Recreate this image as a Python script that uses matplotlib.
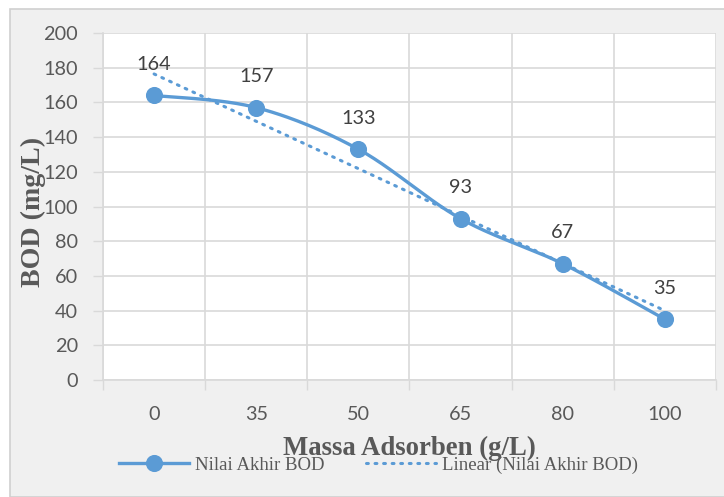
import numpy as np
import matplotlib
matplotlib.use("Agg")
import matplotlib.pyplot as plt
from matplotlib.patches import Rectangle
from matplotlib.lines import Line2D

# Data
massa = ["0", "35", "50", "65", "80", "100"]
bod = [164, 157, 133, 93, 67, 35]
y_ticks = [0, 20, 40, 60, 80, 100, 120, 140, 160, 180, 200]

series_name = "Nilai Akhir BOD"
trend_name = "Linear (Nilai Akhir BOD)"
xlabel = "Massa Adsorben (g/L)"
ylabel = "BOD (mg/L)"

BLUE = "#5b9bd5"
GRID = "#d9d9d9"
TXT = "#595959"
NUM_FONT = "Lato"
NUM_SIZE = 14.3
MS = 11.3

W, H, DPI = 724, 497, 100
fig = plt.figure(figsize=(W / DPI, H / DPI), dpi=DPI, facecolor="white")

# chart area background with border
fig.patches.append(Rectangle((10 / W, 0), 1 - 10 / W + 0.01, 1 - 8.5 / H,
                             transform=fig.transFigure, facecolor="#f0f0f0",
                             edgecolor="#d0d0d0", linewidth=1.2, zorder=-5))

ax = fig.add_axes([103 / W, 1 - 380 / H, (716 - 103) / W, (380 - 33) / H])
ax.set_zorder(2)
ax.set_facecolor("white")

n = len(bod)
xs = np.arange(n)
ys = np.array(bod, dtype=float)


def smooth_curve(x, y, steps=40):
    """Cubic Bezier smoothing through all points (Catmull-Rom style)."""
    px = np.concatenate([[x[0]], x, [x[-1]]])
    py = np.concatenate([[y[0]], y, [y[-1]]])
    out_x, out_y = [], []
    t = np.linspace(0, 1, steps)
    for i in range(1, len(x)):
        p0 = np.array([px[i], py[i]])
        p3 = np.array([px[i + 1], py[i + 1]])
        c1 = p0 + (np.array([px[i + 1], py[i + 1]]) - np.array([px[i - 1], py[i - 1]])) / 6
        c2 = p3 - (np.array([px[i + 2], py[i + 2]]) - np.array([px[i], py[i]])) / 6
        b = ((1 - t) ** 3)[:, None] * p0 + (3 * (1 - t) ** 2 * t)[:, None] * c1 \
            + (3 * (1 - t) * t ** 2)[:, None] * c2 + (t ** 3)[:, None] * p3
        out_x.extend(b[:, 0])
        out_y.extend(b[:, 1])
    return np.array(out_x), np.array(out_y)


sx, sy = smooth_curve(xs, ys)
ax.plot(sx, sy, color=BLUE, lw=2.4, solid_capstyle="round", zorder=3)
ax.plot(xs, ys, linestyle="none", marker="o", ms=MS, color=BLUE, zorder=4)

# linear trendline
slope, intercept = np.polyfit(xs + 1, ys, 1)
tx = np.array([xs[0], xs[-1]])
ax.plot(tx, slope * (tx + 1) + intercept, color=BLUE, lw=2.2,
        linestyle=(0, (0.6, 2.2)), dash_capstyle="round", zorder=2)

# data labels
for x, v in zip(xs, bod):
    ax.annotate(str(v), (x, v), xytext=(0, 18.5), textcoords="offset points",
                ha="center", va="baseline", fontsize=NUM_SIZE, color="#404040",
                family=NUM_FONT, zorder=5)

ax.set_xlim(-0.5, n - 0.5)
ax.set_ylim(0, 200)
ax.set_yticks(y_ticks)
ax.set_yticklabels([str(v) for v in y_ticks], fontsize=NUM_SIZE, color=TXT, family=NUM_FONT)
ax.tick_params(axis="y", length=7, width=1, color=GRID, pad=11)

# category boundaries as major ticks, labels at category centers
ax.set_xticks(np.arange(n + 1) - 0.5)
ax.set_xticklabels([])
ax.set_xticks(xs, minor=True)
ax.set_xticklabels(massa, minor=True, fontsize=NUM_SIZE, color=TXT, family=NUM_FONT)
ax.tick_params(axis="x", which="major", length=7, width=1, color=GRID)
ax.tick_params(axis="x", which="minor", length=0, pad=19)

ax.grid(True, which="major", color=GRID, lw=1.2)
ax.set_axisbelow(True)
for s in ["top", "right"]:
    ax.spines[s].set_visible(False)
ax.spines["left"].set_color(GRID)
ax.spines["bottom"].set_color(GRID)
ax.spines["left"].set_linewidth(1.2)
ax.spines["bottom"].set_linewidth(1.2)

fig.text(409.5 / W, 1 - 448 / H, xlabel, ha="center", va="center",
         fontsize=19.3, fontweight="bold", color="#595959", family="Liberation Serif")
fig.text(33 / W, 1 - 212 / H, ylabel, ha="center", va="center", rotation=90,
         fontsize=20.2, fontweight="bold", color="#595959", family="Liberation Serif")

handles = [
    Line2D([], [], color=BLUE, lw=2.4, marker="o", ms=MS),
    Line2D([], [], color=BLUE, lw=2.2, linestyle=(0, (0.6, 2.2)), dash_capstyle="round"),
]
leg = fig.legend(handles, [series_name, trend_name], loc="center",
                 bbox_to_anchor=(378.5 / W, 1 - 465 / H), ncol=2, frameon=False,
                 prop={"family": "Liberation Serif", "size": 13.5},
                 handlelength=3.73, handletextpad=0.33, columnspacing=2.2,
                 borderpad=0)
for t in leg.get_texts():
    t.set_color(TXT)

fig.savefig("out.png", dpi=DPI, facecolor="white")
